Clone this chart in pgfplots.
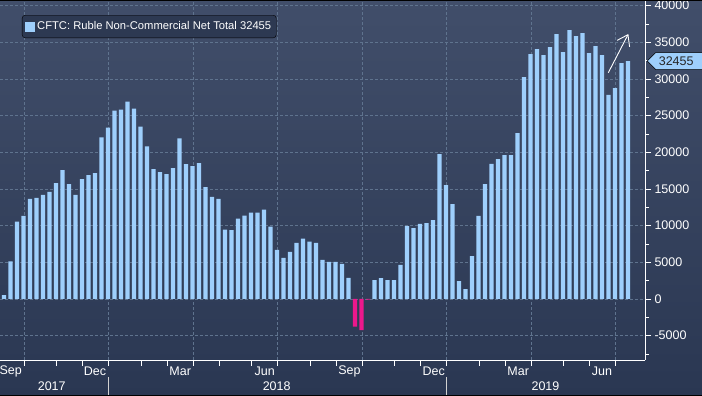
\documentclass[border=0pt]{standalone}
\usepackage{pgfplots}
\pgfplotsset{compat=1.18}
\usepackage{pgfplotstable}
\usepackage{fontspec}
\setmainfont{Liberation Sans}
\usetikzlibrary{arrows.meta,shapes.symbols}

\definecolor{barblue}{RGB}{158,207,252}
\definecolor{negpink}{RGB}{236,24,140}
\definecolor{bgtop}{RGB}{65,78,106}
\definecolor{bgbot}{RGB}{42,55,82}
\definecolor{gridc}{RGB}{95,115,142}
\definecolor{legendbg}{RGB}{45,57,82}
\newcommand\tf{\fontsize{12.5}{14}\selectfont}

\pgfplotstableread{
i v
0 540
1 5135
2 10540
3 11350
4 13650
5 13785
6 14190
7 14600
8 15810
9 17570
10 15680
11 14190
12 16350
13 16890
14 17160
15 22030
16 23380
17 25680
18 25810
19 26900
20 25950
21 23520
22 20810
23 17700
24 17300
25 17030
26 17840
27 21890
28 18380
29 18110
30 18520
31 15270
32 13920
33 13650
34 9460
35 9400
36 10960
37 11370
38 11780
39 11780
40 12190
41 9860
42 6710
43 5620
44 6440
45 7670
46 8220
47 7810
48 7670
49 5340
50 5070
51 5070
52 4790
53 2870
57 2590
58 2860
59 2590
60 2590
61 4640
62 9950
63 9680
64 10230
65 10360
66 10770
67 19770
68 15540
69 12950
70 2450
71 1360
72 5860
73 11320
74 15680
75 18410
76 19090
77 19630
78 19630
79 22630
80 30270
81 33400
82 34090
83 33270
84 34360
85 36130
86 33680
87 36680
88 35860
89 36270
90 33540
91 34500
92 33270
93 27820
94 28770
95 32180
96 32455
}\posdata

\pgfplotstableread{
i v
54 -3770
55 -4230
56 -100
}\negdata

\begin{document}
\begin{tikzpicture}
\useasboundingbox (0,0) rectangle (702pt,396pt);
\shade[top color=bgtop, bottom color=bgbot] (0,0) rectangle (702pt,396pt);
\begin{axis}[
  at={(0pt,36pt)}, anchor=south west,
  scale only axis, width=645pt, height=358.5pt,
  xmin=-0.615, xmax=98.615, ymin=-8319, ymax=40570,
  axis x line*=bottom, axis y line*=right,
  axis line style={white, line width=0.8pt},
  tick align=outside,
  xtick={3.1,8.1,12.1,16.1,21.1,25.1,29.1,33.1,38.1,42.1,47.1,51.1,55.1,60.1,64.1,68.1,73.1,77.1,81.1,86.1,90.1,94.1},
  xticklabels={},
  extra x ticks={3.1,16.1,29.1,42.1,55.1,68.1,81.1,94.1},
  extra x tick labels={},
  extra x tick style={grid=major},
  ytick={-5000,0,5000,10000,15000,20000,25000,30000,35000,40000},
  minor ytick={-7500,-2500,2500,7500,12500,17500,22500,27500,32500,37500},
  scaled y ticks=false,
  ymajorgrids,
  major grid style={gridc, dash pattern=on 2.5pt off 2.5pt, line width=0.7pt},
  major tick length=6pt, minor tick length=4pt,
  tick style={white, line width=0.8pt},
  yticklabel style={white, font=\tf, xshift=0pt},
  /pgf/number format/1000 sep={},
  /pgf/number format/assume math mode=true,
  bar width=0.62,
  clip=false,
  legend style={at={(rel axis cs:0.0341,0.9623)}, anchor=north west,
    draw=black, fill=legendbg, rounded corners=3pt,
    font=\fontsize{11.2}{12}\selectfont, text=white,
    inner xsep=3pt, inner ysep=4.5pt},
]
\addplot[ybar, bar shift=0pt, fill=barblue, draw=none,
  legend image code/.code={\fill[barblue, sharp corners] (0pt,-5pt) rectangle (10pt,5pt);}]
  table[x=i,y=v]{\posdata};
\addlegendentry{CFTC: Ruble Non-Commercial Net Total 32455}
\addplot[ybar, bar shift=0pt, fill=negpink, draw=none, forget plot]
  table[x=i,y=v]{\negdata};

\draw[white, line width=0.9pt, -{Straight Barb[length=10pt,width=14pt]}]
  (axis cs:92.97,30860) -- (axis cs:96.05,36140);

\node[white, font=\tf] at (axis cs:1.03,-9820) {Sep};
\node[white, font=\tf] at (axis cs:14.0,-9820) {Dec};
\node[white, font=\tf] at (axis cs:27.1,-9820) {Mar};
\node[white, font=\tf] at (axis cs:40.1,-9820) {Jun};
\node[white, font=\tf] at (axis cs:53.15,-9820) {Sep};
\node[white, font=\tf] at (axis cs:66.1,-9820) {Dec};
\node[white, font=\tf] at (axis cs:79.1,-9820) {Mar};
\node[white, font=\tf] at (axis cs:92.0,-9820) {Jun};
\node[white, font=\tf] at (axis cs:7.34,-11930) {2017};
\node[white, font=\tf] at (axis cs:41.95,-11930) {2018};
\node[white, font=\tf] at (axis cs:83.3,-11930) {2019};
\draw[white!65!gray, line width=0.7pt] (axis cs:16.1,-10637) -- (axis cs:16.1,-13300);
\draw[white!65!gray, line width=0.7pt] (axis cs:68.1,-10637) -- (axis cs:68.1,-13300);

\node[signal, signal to=west, fill=barblue, draw=black, line width=0.5pt,
  text=black!85, font=\tf, inner xsep=3pt, inner ysep=2pt,
  minimum height=17pt, anchor=west] at (axis cs:98.92,32455) {32455\hspace*{16pt}};
\end{axis}
\fill[black] (0,394.8pt) rectangle (702pt,396pt);
\fill[black] (0,0) rectangle (702pt,1pt);
\end{tikzpicture}
\end{document}
